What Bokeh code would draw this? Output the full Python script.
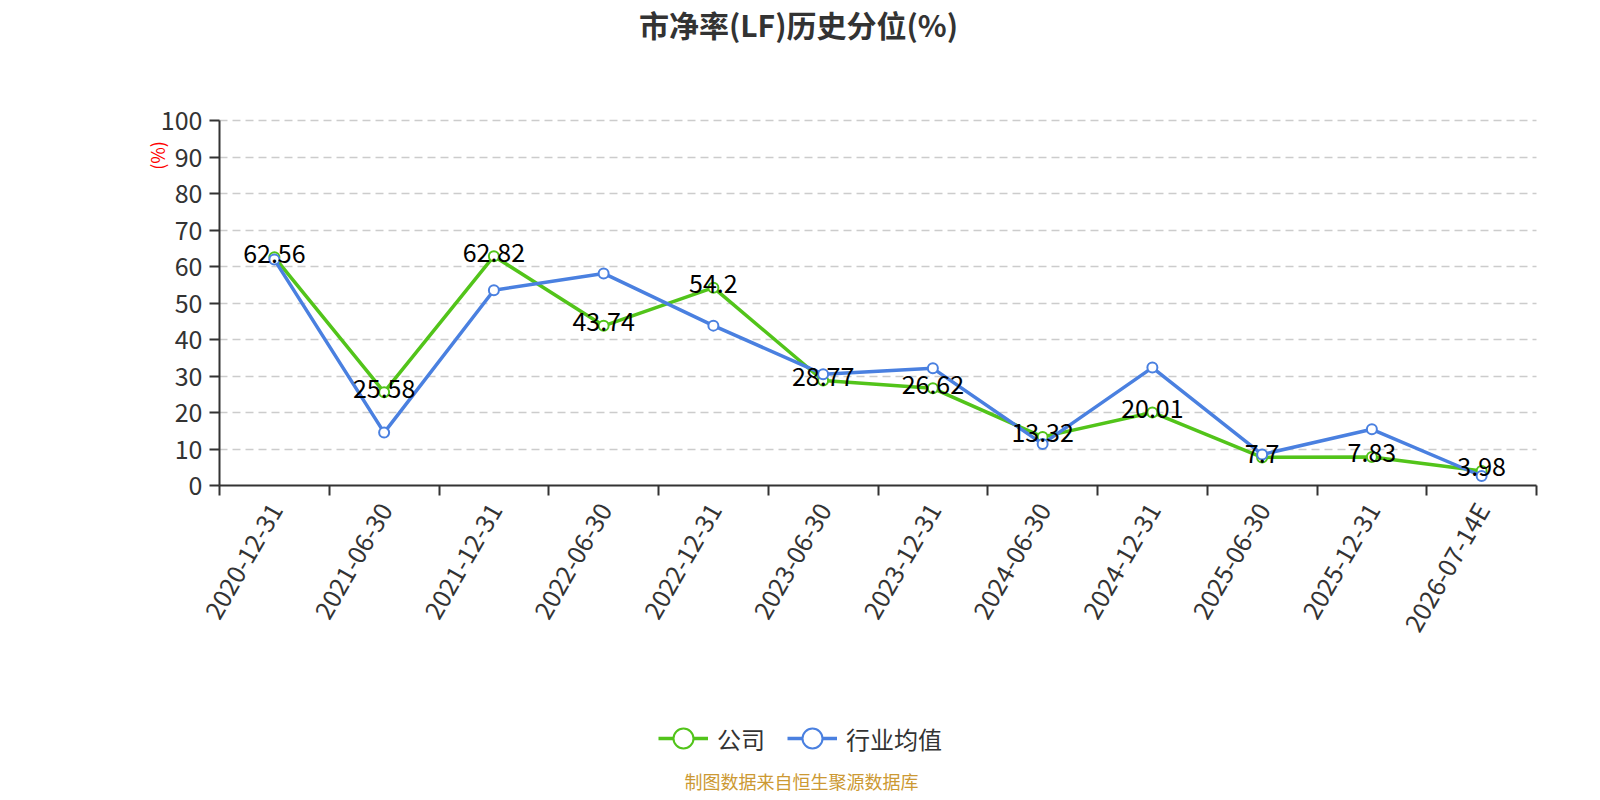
import math
from bokeh.plotting import figure
from bokeh.models import FixedTicker, Legend, LegendItem, Label, Range1d, ColumnDataSource, Grid
from bokeh.embed import file_html
from bokeh.resources import INLINE
from bokeh.core.properties import value

dates = ["2020-12-31", "2021-06-30", "2021-12-31", "2022-06-30", "2022-12-31", "2023-06-30",
         "2023-12-31", "2024-06-30", "2024-12-31", "2025-06-30", "2025-12-31", "2026-07-14E"]
company = [62.56, 25.58, 62.82, 43.74, 54.2, 28.77, 26.62, 13.32, 20.01, 7.7, 7.83, 3.98]
industry = [61.9, 14.5, 53.5, 58.1, 43.8, 30.5, 32.1, 11.4, 32.3, 8.5, 15.4, 2.6]
y_ticks = list(range(0, 101, 10))

GREEN = "#52C41A"
BLUE = "#4A80E0"
FONT = "Noto Sans CJK SC"
W, H = 1590, 792
FL, FT, FR, FB = 219, 120, 1536, 485   # plotting box in canvas px

n = len(dates)
x_lo, x_hi = -0.5, n - 0.5
y_lo, y_hi = 0, 100
px_x = (FR - FL) / (x_hi - x_lo)
px_y = (FB - FT) / (y_hi - y_lo)
xr = Range1d(x_lo - FL / px_x, x_hi + (W - FR) / px_x)
yr = Range1d(y_lo - (H - FB) / px_y, y_hi + FT / px_y)

xs = list(range(n))
src = ColumnDataSource(dict(x=xs, company=company, industry=industry,
                            lab=[f"{v:g}" for v in company]))

p = figure(width=W, height=H, output_backend="svg", toolbar_location=None,
           x_range=xr, y_range=yr, min_border=0, title=None)
p.outline_line_color = None

# grid
p.xgrid.grid_line_color = None
grid_done = False
if "cross_bounds" in Grid.properties():
    p.ygrid.cross_bounds = (x_lo, x_hi)
    p.ygrid.bounds = (y_lo, y_hi)
    p.ygrid.ticker = FixedTicker(ticks=y_ticks[1:])
    p.ygrid.grid_line_color = "#cccccc"
    p.ygrid.grid_line_dash = "8 5"
    p.ygrid.grid_line_width = 1.5
    grid_done = True
if not grid_done:
    p.ygrid.grid_line_color = None
    gsrc = ColumnDataSource(dict(y=y_ticks[1:], x0=[x_lo] * (len(y_ticks) - 1), x1=[x_hi] * (len(y_ticks) - 1)))
    p.segment(x0="x0", x1="x1", y0="y", y1="y", source=gsrc, line_color="#cccccc",
              line_dash="8 5", line_width=1.5)

# y axis
p.yaxis.fixed_location = x_lo
p.yaxis.bounds = (y_lo, y_hi)
p.yaxis.ticker = FixedTicker(ticks=y_ticks)
p.yaxis.major_label_text_font_size = "25px"
p.yaxis.major_label_text_font = FONT
p.yaxis.major_label_text_color = "#333333"
p.yaxis.major_label_standoff = 7
p.yaxis.axis_line_color = "#333333"
p.yaxis.axis_line_width = 2
p.yaxis.major_tick_line_color = "#333333"
p.yaxis.major_tick_line_width = 2
p.yaxis.major_tick_out = 10
p.yaxis.major_tick_in = 0
p.yaxis.minor_tick_line_color = None

# x axis
p.xaxis.fixed_location = y_lo
p.xaxis.bounds = (x_lo, x_hi)
p.xaxis.ticker = FixedTicker(ticks=xs, minor_ticks=[i - 0.5 for i in range(n + 1)])
p.xaxis.major_label_overrides = {i: d for i, d in enumerate(dates)}
p.xaxis.major_label_orientation = math.pi / 3
p.xaxis.major_label_text_font_size = "25px"
p.xaxis.major_label_text_font = FONT
p.xaxis.major_label_text_color = "#333333"
p.xaxis.major_label_standoff = 9
p.xaxis.axis_line_color = "#333333"
p.xaxis.axis_line_width = 2
p.xaxis.major_tick_out = 0
p.xaxis.major_tick_in = 0
p.xaxis.minor_tick_line_color = "#333333"
p.xaxis.minor_tick_line_width = 2
p.xaxis.minor_tick_out = 10
p.xaxis.minor_tick_in = 0

l1 = p.line("x", "company", source=src, color=GREEN, line_width=3.5)
s1 = p.scatter("x", "company", source=src, size=10, fill_color="white", line_color=GREEN, line_width=2)
l2 = p.line("x", "industry", source=src, color=BLUE, line_width=3.5)
s2 = p.scatter("x", "industry", source=src, size=10, fill_color="white", line_color=BLUE, line_width=2)
p.text("x", "company", text="lab", source=src, text_align="center", text_baseline="middle",
       y_offset=-4, text_font_size="25px", text_font=value(FONT), text_color="#000000")

LEG_H = 56
legend = Legend(items=[LegendItem(label="公司", renderers=[l1, s1]),
                       LegendItem(label="行业均值", renderers=[l2, s2])],
                location=(658, H - LEG_H - 710), orientation="horizontal",
                border_line_color=None, background_fill_alpha=0,
                label_text_font_size="24px", label_text_font=FONT, label_text_color="#333333",
                glyph_width=50, glyph_height=LEG_H, spacing=22, padding=0, margin=0,
                label_standoff=9)
p.add_layout(legend, "center")

p.add_layout(Label(x=798, y=H - 23, x_units="screen", y_units="screen", text="市净率(LF)历史分位(%)",
                   text_align="center", text_baseline="middle", text_font_size="30px",
                   text_font=FONT, text_font_style="bold", text_color="#333333"))
p.add_layout(Label(x=156, y=H - 155, x_units="screen", y_units="screen", text="(%)",
                   angle=math.pi / 2, text_align="center", text_baseline="middle",
                   text_font_size="18px", text_font=FONT, text_color="#ff0000"))
p.add_layout(Label(x=801, y=H - 780, x_units="screen", y_units="screen", text="制图数据来自恒生聚源数据库",
                   text_align="center", text_baseline="middle", text_font_size="18px",
                   text_font=FONT, text_color="#CC9933"))

open("out.html", "w").write(file_html(p, INLINE))
